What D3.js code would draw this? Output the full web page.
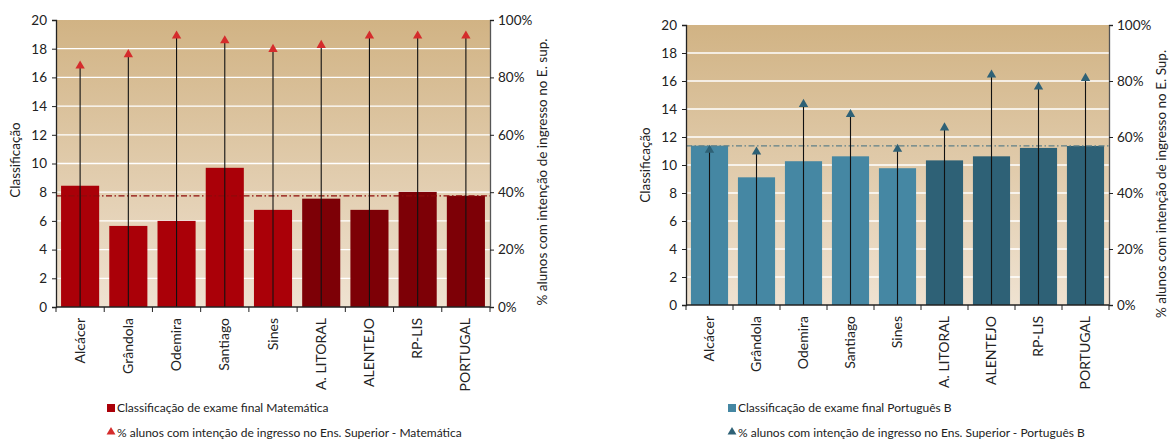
<!DOCTYPE html>
<html>
<head>
<meta charset="utf-8">
<script src="https://cdn.jsdelivr.net/npm/d3@7"></script>
<style>
  html, body { margin: 0; padding: 0; background: #fff; }
  svg { display: block; font-family: Lato, "Noto Sans", sans-serif; }
</style>
</head>
<body>
<svg id="chart" width="1170" height="439"></svg>
<script>
// Municipalities / regions on the category axis
const categories = ["Alcácer", "Grândola", "Odemira", "Santiago", "Sines",
                    "A. LITORAL", "ALENTEJO", "RP-LIS", "PORTUGAL"];

// Final exam grade (0–20) – Matemática
const gradeMat = [8.45, 5.65, 6.0, 9.7, 6.77, 7.55, 6.77, 8.02, 7.75];
// % of students intending to enter higher education – Matemática
const pctMat = [84, 88, 94.5, 92.8, 89.8, 91.2, 94.5, 94.5, 94.5];

// Final exam grade (0–20) – Português B
const gradePort = [11.38, 9.12, 10.27, 10.62, 9.77, 10.33, 10.62, 11.22, 11.36];
// % of students intending to enter higher education – Português B
const pctPort = [55.3, 54.7, 71.7, 68.1, 55.7, 63.3, 82.2, 77.9, 81.0];

// Axis ticks
const gradeTicks = [0, 2, 4, 6, 8, 10, 12, 14, 16, 18, 20];
const pctTicks = [0, 20, 40, 60, 80, 100];

// Index of the first aggregate region (drawn in a darker shade)
const firstRegion = 5;

const svg = d3.select("#chart");

function drawPanel(opt) {
  const g = svg.append("g");
  const x = d3.scaleBand().domain(categories).range([opt.x0, opt.x1]).paddingInner(0.21).paddingOuter(0.105);
  const y = d3.scaleLinear().domain([0, 20]).range([opt.yb, opt.yt]);
  const yp = d3.scaleLinear().domain([0, 100]).range([opt.yb, opt.yt]);

  // background gradient
  const gid = "bg" + opt.id;
  const grad = svg.append("defs").append("linearGradient")
    .attr("id", gid).attr("x1", 0).attr("y1", 0).attr("x2", 0).attr("y2", 1);
  grad.append("stop").attr("offset", "0%").attr("stop-color", "#d1b384");
  grad.append("stop").attr("offset", "100%").attr("stop-color", "#efe2d1");
  g.append("rect")
    .attr("x", opt.x0).attr("y", opt.yt)
    .attr("width", opt.x1 - opt.x0).attr("height", opt.yb - opt.yt)
    .attr("fill", `url(#${gid})`);

  // horizontal gridlines
  g.append("g").selectAll("line").data(gradeTicks.filter(d => d > 0 && d < 20)).join("line")
    .attr("x1", opt.x0).attr("x2", opt.x1)
    .attr("y1", d => y(d)).attr("y2", d => y(d))
    .attr("stroke", "#fff").attr("stroke-width", 1.3);

  // bars
  g.append("g").selectAll("rect").data(opt.grades).join("rect")
    .attr("x", (d, i) => x(categories[i]))
    .attr("width", x.bandwidth())
    .attr("y", d => y(d))
    .attr("height", d => opt.yb - y(d))
    .attr("fill", (d, i) => i < firstRegion ? opt.barLight : opt.barDark);

  // reference line at national value
  const nat = opt.grades[opt.grades.length - 1];
  g.append("line")
    .attr("x1", opt.x0).attr("x2", opt.x1)
    .attr("y1", y(nat)).attr("y2", y(nat))
    .attr("stroke", opt.refColor).attr("stroke-width", 1.2)
    .attr("stroke-dasharray", "6,2.5,1.5,2.5");

  // drop lines from baseline to the % markers
  g.append("g").selectAll("line").data(opt.pcts).join("line")
    .attr("x1", (d, i) => x(categories[i]) + x.bandwidth() / 2)
    .attr("x2", (d, i) => x(categories[i]) + x.bandwidth() / 2)
    .attr("y1", opt.yb).attr("y2", d => yp(d))
    .attr("stroke", "#111").attr("stroke-width", 1.1);

  // triangle markers
  const tri = d3.symbol().type(d3.symbolTriangle).size(38);
  g.append("g").selectAll("path").data(opt.pcts).join("path")
    .attr("d", tri)
    .attr("transform", (d, i) => `translate(${x(categories[i]) + x.bandwidth() / 2},${yp(d)})`)
    .attr("fill", opt.triColor);

  // left axis
  const la = g.append("g").attr("transform", `translate(${opt.x0},0)`)
    .call(d3.axisLeft(y).tickValues(gradeTicks).tickSize(4).tickPadding(5));
  la.select(".domain").attr("stroke", "#222").attr("stroke-width", 1.3);
  la.selectAll(".tick line").attr("stroke", "#222");
  la.selectAll(".tick text").attr("font-size", 13.5).attr("fill", "#222").attr("font-family", "Lato, sans-serif");

  // right axis
  const ra = g.append("g").attr("transform", `translate(${opt.x1},0)`)
    .call(d3.axisRight(yp).tickValues(pctTicks).tickFormat(d => d + "%").tickSize(4).tickPadding(4));
  ra.select(".domain").attr("stroke", "#555").attr("stroke-width", 1.3);
  ra.selectAll(".tick line").attr("stroke", "#222");
  ra.selectAll(".tick text").attr("font-size", 13.5).attr("fill", "#222").attr("font-family", "Lato, sans-serif");

  // bottom axis with ticks at category boundaries
  const bounds = categories.map(c => x(c) - x.step() * x.paddingInner() / 2).concat([opt.x1]);
  g.append("line").attr("x1", opt.x0).attr("x2", opt.x1)
    .attr("y1", opt.yb).attr("y2", opt.yb).attr("stroke", "#222").attr("stroke-width", 1.3);
  g.append("g").selectAll("line").data(bounds).join("line")
    .attr("x1", d => d).attr("x2", d => d)
    .attr("y1", opt.yb).attr("y2", opt.yb + 5)
    .attr("stroke", "#222");
  g.append("g").selectAll("text").data(categories).join("text")
    .attr("transform", d => `translate(${x(d) + x.bandwidth() / 2 + 4.5},${opt.yb + 11}) rotate(-90)`)
    .attr("text-anchor", "end")
    .attr("font-size", 14).attr("fill", "#222")
    .text(d => d);

  // axis titles
  g.append("text")
    .attr("transform", `translate(${opt.x0 - 36},${opt.leftTitleY}) rotate(-90)`)
    .attr("text-anchor", "middle").attr("font-size", 13.5).attr("fill", "#222")
    .text("Classificação");
  g.append("text")
    .attr("transform", `translate(${opt.x1 + 57},${opt.rightTitleY}) rotate(-90)`)
    .attr("text-anchor", "middle").attr("font-size", 13.5).attr("fill", "#222")
    .text(opt.rightTitle);

  // legend
  g.append("rect").attr("x", opt.legX).attr("y", 404).attr("width", 8).attr("height", 8)
    .attr("fill", opt.barLight);
  g.append("text").attr("x", opt.legX + 10).attr("y", 412)
    .attr("font-size", 12).attr("fill", "#222").text(opt.legBar);
  g.append("path").attr("d", d3.symbol().type(d3.symbolTriangle).size(34)())
    .attr("transform", `translate(${opt.legX + 4},${432})`)
    .attr("fill", opt.triColor);
  g.append("text").attr("x", opt.legX + 10).attr("y", 437)
    .attr("font-size", 12).attr("fill", "#222").text(opt.legTri);
}

drawPanel({
  id: "mat", x0: 56, x1: 490, yt: 20, yb: 307,
  grades: gradeMat, pcts: pctMat,
  barLight: "#aa0008", barDark: "#7d0006",
  refColor: "#8e0a0a", triColor: "#d52c2c",
  leftTitleY: 160, rightTitleY: 172,
  rightTitle: "% alunos com intenção de ingresso no E. sup.",
  legX: 107,
  legBar: "Classificação de exame final Matemática",
  legTri: "% alunos com intenção de ingresso no Ens. Superior - Matemática"
});

drawPanel({
  id: "port", x0: 686, x1: 1109, yt: 25, yb: 305,
  grades: gradePort, pcts: pctPort,
  barLight: "#4587a3", barDark: "#2e6176",
  refColor: "#5f8088", triColor: "#2e6176",
  leftTitleY: 165, rightTitleY: 184,
  rightTitle: "% alunos com intenção de ingresso no E. Sup.",
  legX: 728,
  legBar: "Classificação de exame final Português B",
  legTri: "% alunos com intenção de ingresso no Ens. Superior - Português B"
});
</script>
</body>
</html>
